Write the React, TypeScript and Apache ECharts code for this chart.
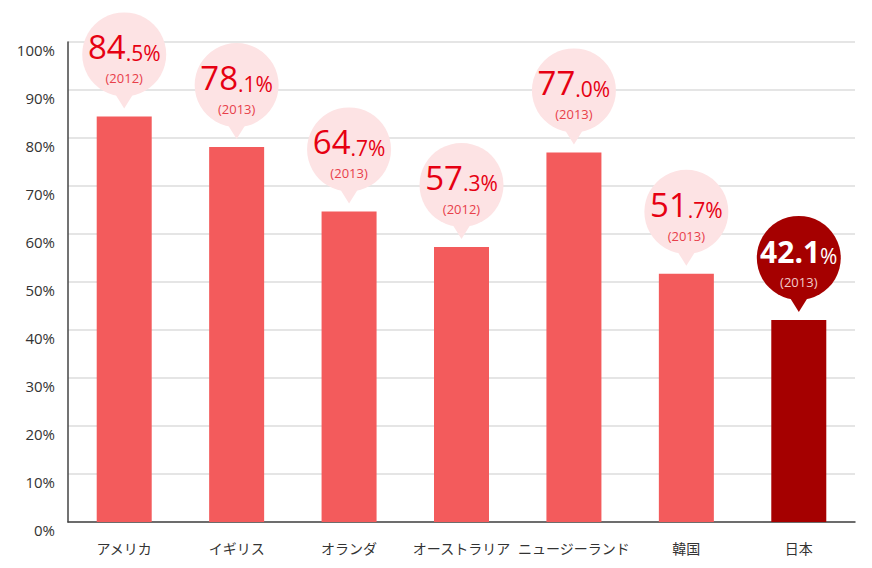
import React, { useEffect, useRef } from "react";
import * as echarts from "echarts";

const categories = ["アメリカ", "イギリス", "オランダ", "オーストラリア", "ニュージーランド", "韓国", "日本"];
const values = [84.5, 78.1, 64.7, 57.3, 77.0, 51.7, 42.1];
const years = ["2012", "2013", "2013", "2012", "2013", "2013", "2013"];
const highlight = "日本";
const yTicks = [0, 10, 20, 30, 40, 50, 60, 70, 80, 90, 100];

const FONT = "'Open Sans', 'Noto Sans CJK JP', sans-serif";

export default function App() {
  const ref = useRef<HTMLDivElement>(null);
  useEffect(() => {
    if (!ref.current) return;
    const chart = echarts.init(ref.current, null, { renderer: "svg" });
    const option = {
      animation: false,
      textStyle: { fontFamily: FONT },
      grid: { left: 68, right: 17, top: 42, bottom: 46 },
      xAxis: {
        type: "category",
        data: categories,
        axisTick: { show: false },
        axisLine: { lineStyle: { color: "#444", width: 1.5 } },
        axisLabel: { color: "#333", fontSize: 14, margin: 19, fontFamily: FONT, interval: 0 },
      },
      yAxis: {
        type: "value",
        min: yTicks[0],
        max: yTicks[yTicks.length - 1],
        interval: 10,
        axisLine: { show: true, lineStyle: { color: "#444", width: 1.5 } },
        axisTick: { show: false },
        splitLine: { lineStyle: { color: "#dcdcdc", width: 1.5 } },
        axisLabel: {
          color: "#333",
          fontSize: 15,
          margin: 13,
          verticalAlign: "top",
          fontFamily: FONT,
          formatter: "{value}%",
        },
      },
      series: [
        {
          type: "bar",
          barWidth: 55,
          data: values.map((v, i) => ({
            value: v,
            itemStyle: { color: categories[i] === highlight ? "#a50000" : "#f35b5c" },
          })),
        },
        {
          type: "custom",
          clip: false,
          z: 5,
          data: values.map((v, i) => [i, v]),
          renderItem: (params: any, api: any) => {
            const idx = api.value(0);
            const v = api.value(1);
            const p = api.coord([idx, v]);
            const x = p[0];
            const top = p[1];
            const yc = top - 62;
            const isHi = categories[idx] === highlight;
            const fill = isHi ? "#a50000" : "#fde3e4";
            const str = values[idx].toFixed(1);
            const [intPart, decPart] = str.split(".");
            const numText = isHi
              ? `{a|${intPart}.${decPart}}{b|%}`
              : `{a|${intPart}}{b|.${decPart}%}`;
            const mainColor = isHi ? "#ffffff" : "#e60012";
            const yearColor = isHi ? "#f3caca" : "#e8404a";
            return {
              type: "group",
              children: [
                {
                  type: "circle",
                  shape: { cx: x, cy: yc, r: 42 },
                  style: { fill },
                },
                {
                  type: "polygon",
                  shape: { points: [[x - 10, top - 24], [x + 10, top - 24], [x, top - 8]] },
                  style: { fill },
                },
                {
                  type: "text",
                  x: x,
                  y: yc - 4,
                  style: {
                    text: numText,
                    align: "center",
                    verticalAlign: "middle",
                    fill: mainColor,
                    rich: {
                      a: {
                        fontSize: isHi ? 30 : 33,
                        fontWeight: isHi ? "bold" : "normal",
                        fontFamily: FONT,
                        fill: mainColor,
                        lineHeight: 26,
                        verticalAlign: "bottom",
                      },
                      b: {
                        fontSize: 21,
                        fontFamily: FONT,
                        fill: mainColor,
                        lineHeight: 19,
                        verticalAlign: "bottom",
                      },
                    },
                  },
                },
                {
                  type: "text",
                  x: x,
                  y: yc + 24,
                  style: {
                    text: `(${years[idx]})`,
                    align: "center",
                    verticalAlign: "middle",
                    fontSize: 13,
                    fontFamily: FONT,
                    fill: yearColor,
                  },
                },
              ],
            };
          },
        },
      ],
    };
    chart.setOption(option as any);
    return () => chart.dispose();
  }, []);
  return (
    <div
      ref={ref}
      style={{ position: "fixed", left: 0, top: 0, width: 872, height: 568, background: "#fff" }}
    />
  );
}
